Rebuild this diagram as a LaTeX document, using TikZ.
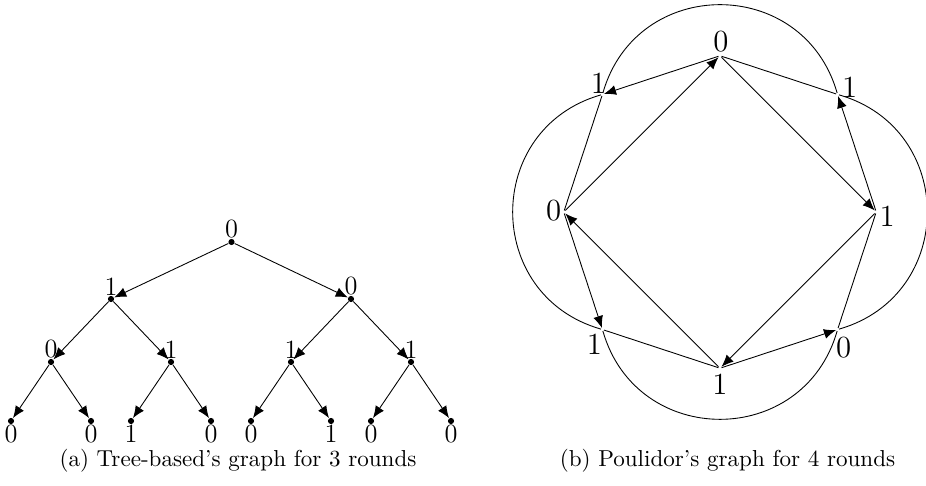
\documentclass[tikz,border=0pt]{standalone}
\usepackage{tikz}
\usetikzlibrary{arrows.meta, calc}

\begin{document}
\begin{tikzpicture}[font=\fontsize{10.5}{12.6}\selectfont,
    >={Latex[length=5.5pt, width=4.5pt]},
    dot/.style={circle, fill, inner sep=0pt, minimum size=2.8pt, label distance=2.5pt},
    vtx/.style={inner sep=0pt},
    lbl/.style={inner sep=0pt, font=\fontsize{14}{17}\selectfont},
    every label/.append style={inner sep=0pt, font=\fontsize{12}{14}\selectfont}]
  \useasboundingbox (0,0) rectangle (14.816,7.776);

  % (a) tree
  \node[dot, label=above:0] (r) at (3.704,3.904) {};
  \node[dot, label=above:1] (a) at (1.776,2.992) {};
  \node[dot, label=above:0] (b) at (5.616,2.992) {};
  \node[dot, label=above:0] (aa) at (0.816,1.984) {};
  \node[dot, label=above:1] (ab) at (2.736,1.984) {};
  \node[dot, label=above:1] (ba) at (4.656,1.984) {};
  \node[dot, label=above:1] (bb) at (6.576,1.984) {};
  \foreach \n/\x/\l in {aaa/0.176/0, aab/1.456/0, aba/2.096/1, abb/3.376/0,
                        baa/4.016/0, bab/5.296/1, bba/5.936/0, bbb/7.216/0}
    \node[dot, label=below:\l] (\n) at (\x,1.04) {};
  \foreach \p/\c in {r/a, r/b, a/aa, a/ab, b/ba, b/bb, aa/aaa, aa/aab,
                     ab/aba, ab/abb, ba/baa, ba/bab, bb/bba, bb/bbb}
    \draw[->] (\p) -- (\c);
  \node[inner sep=0pt] (capa) at (3.808,0.4) {(a) Tree-based's graph for 3 rounds};

  % (b) Poulidor
  \coordinate (o) at (11.52,4.384);
  \foreach \n/\a/\d/\l/\dx/\dy in {t/90/2.5/0/0.016/0.224, tr/45/2.66/1/0.192/0.112,
                                   r/0/2.5/1/0.176/-0.064, br/-45/2.66/0/0.096/-0.288,
                                   b/-90/2.5/1/0/-0.256, bl/-135/2.66/1/-0.128/-0.24,
                                   l/180/2.5/0/-0.16/0.016, tl/135/2.66/1/-0.064/0.176}
  {
    \node[vtx] (\n) at ($(o)+(\a:\d)$) {};
    \node[lbl] (\n-l) at ($(\n)+(\dx,\dy)$) {\l};
  }
  \foreach \s/\e in {l/t, t/r, r/b, b/l, t/tl, r/tr, b/br, l/bl}
    \draw[->] (\s) -- (\e);
  \foreach \s/\e in {tr/t, tl/l, bl/b, br/r}
    \draw (\s) -- (\e);
  \foreach \s/\e in {tl/tr, tr/br, br/bl, bl/tl}
    \draw (\s) to[bend left=74, looseness=1.34] (\e);
  \node[inner sep=0pt] (capb) at (11.64,0.4) {(b) Poulidor's graph for 4 rounds};
\end{tikzpicture}
\end{document}
